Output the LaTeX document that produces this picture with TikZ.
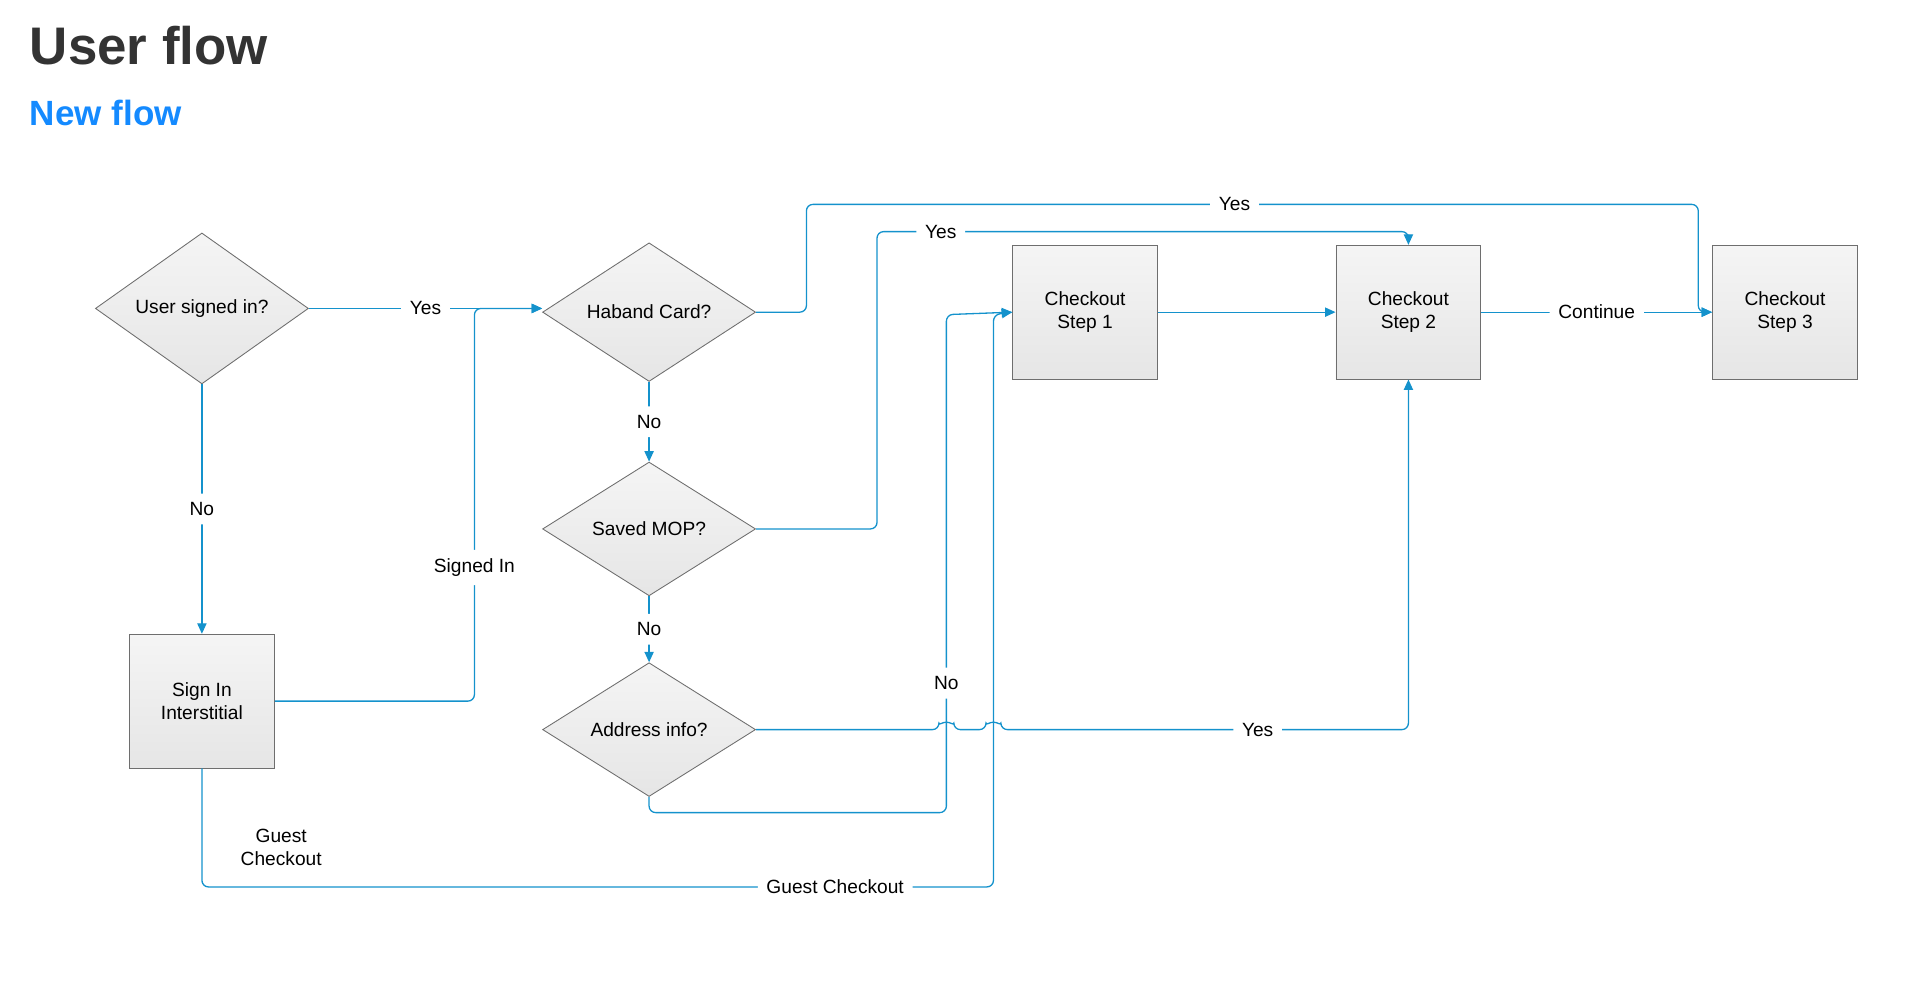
\documentclass[tikz,border=0pt]{standalone}
\usepackage{fontspec}
\setmainfont{Liberation Sans}
\usetikzlibrary{arrows.meta,shapes.geometric,positioning}
\definecolor{flowblue}{RGB}{20,146,204}
\definecolor{titlegray}{RGB}{51,51,51}
\definecolor{titleblue}{RGB}{20,138,255}
\definecolor{boxline}{RGB}{110,110,110}

\begin{document}
\begin{tikzpicture}[x=0.02cm, y=-0.02cm,
    decision/.style={diamond, draw=boxline, top color=gray!8, bottom color=gray!20,
                     minimum width=3.44cm, minimum height=2.16cm, inner sep=0pt,
                     font=\fontsize{8.8}{10.5}\selectfont},
    stepbox/.style={rectangle, draw=boxline, top color=gray!8, bottom color=gray!20,
                 minimum width=2.34cm, minimum height=2.16cm, align=center,
                 font=\fontsize{8.8}{10.5}\selectfont},
    link/.style={draw=flowblue, line width=0.6pt, rounded corners=3pt},
    arr/.style={link, -{Triangle[length=1.7mm, width=1.5mm]}},
    lbl/.style={fill=white, inner sep=4pt, align=center, font=\fontsize{8.8}{10.5}\selectfont}
]
    \useasboundingbox (0,0) rectangle (1550,800);

    \node[anchor=base west, text=titlegray, font=\fontsize{24.3}{28}\selectfont\bfseries] (title) at (18,52) {User flow};
    \node[anchor=base west, text=titleblue, font=\fontsize{16.1}{19}\selectfont\bfseries] (subtitle) at (18,101) {New flow};

    \node[decision] (signed) at (163,249) {User signed in?};
    \node[decision] (haband) at (524,252) {Haband Card?};
    \node[decision] (mop)    at (524,427) {Saved MOP?};
    \node[decision] (addr)   at (524,589) {Address info?};
    \node[stepbox] (signin) at (163,566) {Sign In\\Interstitial};
    \node[stepbox] (step1)  at (876,252) {Checkout\\Step 1};
    \node[stepbox] (step2)  at (1137,252) {Checkout\\Step 2};
    \node[stepbox] (step3)  at (1441,252) {Checkout\\Step 3};

    % main line
    \draw[arr] (signed.east) -- node[lbl, pos=0.5]{Yes} (signed.east -| haband.west);
    \draw[arr] (signed.south) -- node[lbl]{No} (signin.north);
    \draw[arr] (signin.east) -- (383,566) -- node[lbl, pos=0.34]{Signed In} (383,249) -- (signed.east -| haband.west);
    \draw[arr] (haband.south) -- node[lbl, pos=0.5]{No} (mop.north);
    \draw[arr] (mop.south) -- node[lbl, pos=0.5]{No} (addr.north);
    \draw[arr] (step1.east) -- (step2.west);
    \draw[arr] (step2.east) -- node[lbl]{Continue} (step3.west);

    % shortcuts
    \draw[arr] (haband.east) -- (651,252) -- (651,165) -- node[lbl, pos=0.48]{Yes} (1371,165) -- (1371,252) -- (step3.west);
    \draw[arr] (mop.east) -- (708,427) -- (708,187) -- node[lbl, pos=0.12]{Yes} (1137,187) -- (step2.north);
    \draw[arr] (addr.east) -- (758,589) arc[start angle=180, end angle=0, radius=0.12cm]
        -- (796,589) arc[start angle=180, end angle=0, radius=0.12cm]
        -- node[lbl, pos=0.63]{Yes} (1137,589) -- (step2.south);
    \draw[arr] (addr.south) -- (524,656) -- (764,656) -- node[lbl, pos=0.26]{No} (764,254) -- (step1.west);
    \draw[arr] (signin.south) -- (163,716) -- node[lbl, pos=0.8]{Guest Checkout} (802,716) -- (802,254) -- (step1.west);
    \node[lbl, fill=none] (guest) at (227,684) {Guest\\Checkout};
\end{tikzpicture}
\end{document}
